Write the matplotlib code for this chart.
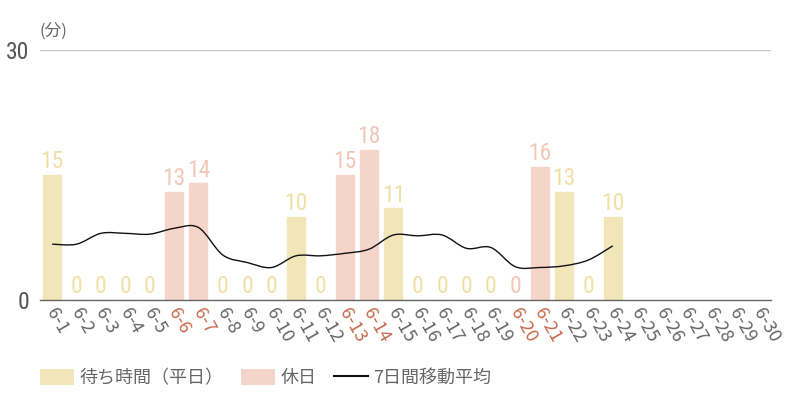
import numpy as np
import matplotlib.pyplot as plt
from matplotlib.path import Path
from matplotlib.patches import PathPatch, Patch
from matplotlib.lines import Line2D
import matplotlib.transforms as mtransforms

plt.rcParams['font.family'] = ['Noto Sans CJK JP', 'DejaVu Sans']

# データ
days = ['6-%d' % d for d in range(1, 31)]
holidays = ['6-6', '6-7', '6-13', '6-14', '6-20', '6-21']
wait = [15, 0, 0, 0, 0, 13, 14, 0, 0, 0, 10, 0, 15, 18, 11,
        0, 0, 0, 0, 0, 16, 13, 0, 10]
avg7 = [6.7, 6.7, 8.0, 8.0, 7.9, 8.6, 8.7, 5.4, 4.5, 3.9, 5.3, 5.3, 5.6, 6.1, 7.8,
        7.7, 7.8, 6.2, 6.3, 4.0, 3.9, 4.1, 4.8, 6.5]
legend_labels = ['待ち時間（平日）', '休日', '7日間移動平均']

c_week = '#f1e6b8'
c_hol = '#f5d5c9'
c_week_txt = '#efe0a6'
c_hol_txt = '#f1c8b8'
c_tick = '#666666'
c_tick_hol = '#c86a4e'
num_font = ['Roboto Condensed', 'Liberation Sans Narrow', 'Roboto', 'DejaVu Sans']

fig = plt.figure(figsize=(8, 4), dpi=100)
ax = fig.add_axes([0.05, 0.25, 0.914, 0.625])

x = np.arange(len(days))
for i, v in enumerate(wait):
    hol = days[i] in holidays
    col = c_hol if hol else c_week
    ax.bar(i, v, width=0.74, color=col, edgecolor=col, linewidth=1, zorder=2)
    ax.text(i, v + 0.2, str(v), ha='center', va='bottom', fontsize=17,
            family=num_font, fontstretch='condensed',
            color=c_hol_txt if hol else c_week_txt, zorder=3)

# 移動平均 (なめらかな線)
pts = np.column_stack([x[:len(avg7)], avg7])
verts = [pts[0]]
codes = [Path.MOVETO]
for k in range(len(pts) - 1):
    p0 = pts[k - 1] if k > 0 else pts[k]
    p1, p2 = pts[k], pts[k + 1]
    p3 = pts[k + 2] if k + 2 < len(pts) else pts[k + 1]
    verts += [p1 + (p2 - p0) / 6, p2 - (p3 - p1) / 6, p2]
    codes += [Path.CURVE4] * 3
ax.add_patch(PathPatch(Path(verts, codes), facecolor='none', edgecolor='#111111',
                       linewidth=1.0, zorder=4))

ax.set_xlim(-0.5, len(days) - 0.5)
ax.set_ylim(0, 30)
ax.set_yticks([0, 30])
ax.set_yticklabels(['0', '30'], family=num_font, fontstretch='condensed',
                   fontsize=17, color='#555555')
ax.axhline(30, color='#c8c8c8', linewidth=1, zorder=1)
for s in ['top', 'right', 'left']:
    ax.spines[s].set_visible(False)
ax.spines['bottom'].set_color('#666666')
ax.spines['bottom'].set_linewidth(1)
ax.tick_params(axis='y', length=0, pad=8)
ax.tick_params(axis='x', length=0, pad=2)

ax.set_xticks(x)
ax.set_xticklabels(days, rotation=-60, ha='left', va='center',
                   rotation_mode='anchor', fontsize=13)
offset = mtransforms.ScaledTranslation(-1 / 72, -5 / 72, fig.dpi_scale_trans)
for lab in ax.get_xticklabels():
    lab.set_color(c_tick_hol if lab.get_text() in holidays else c_tick)
    lab.set_transform(lab.get_transform() + offset)

fig.text(0.049, 0.922, '(分)', fontsize=12, color='#666666', ha='left', va='center')

handles = [Patch(facecolor=c_week, edgecolor='none'),
           Patch(facecolor=c_hol, edgecolor='none'),
           Line2D([0], [0], color='#111111', linewidth=1.5)]
fig.legend(handles, legend_labels, loc='center left', bbox_to_anchor=(0.05, 0.055),
           ncol=3, frameon=False, fontsize=13, labelcolor='#666666',
           handlelength=1.9, handleheight=0.95, handletextpad=0.3,
           columnspacing=0.95, borderaxespad=0, borderpad=0)

fig.savefig('out.png', dpi=100)
